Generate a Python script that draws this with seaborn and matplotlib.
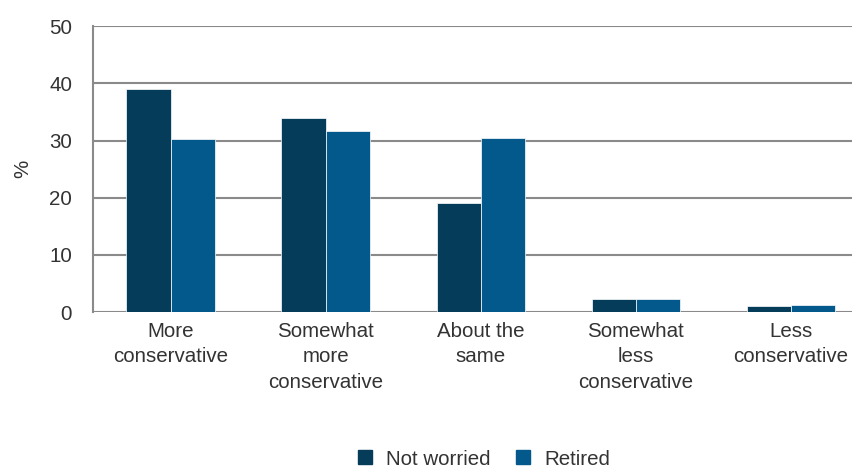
import matplotlib
matplotlib.use("Agg")
import matplotlib.pyplot as plt
from matplotlib.ticker import FixedLocator
import seaborn as sns
import pandas as pd

categories = ["More\nconservative", "Somewhat\nmore\nconservative", "About the\nsame",
              "Somewhat\nless\nconservative", "Less\nconservative"]
not_worried = [39.0, 34.0, 19.0, 2.3, 1.0]
retired = [30.2, 31.6, 30.5, 2.3, 1.3]
series = ["Not worried", "Retired"]
colors = ["#053c5a", "#04598c"]

rows = []
for c, a, b in zip(categories, not_worried, retired):
    rows.append({"cat": c, "series": series[0], "val": a})
    rows.append({"cat": c, "series": series[1], "val": b})
df = pd.DataFrame(rows)

sns.set_style("white")
plt.rcParams['font.family'] = ['Liberation Sans', 'DejaVu Sans']
textc = "#333333"
gridc = "#8a8a8a"
fs = 14.8

fig = plt.figure(figsize=(8.53, 4.68), dpi=100)
ax = fig.add_axes([0.109, 0.333, 0.891, 0.611])
sns.barplot(data=df, x="cat", y="val", hue="series", order=categories, hue_order=series,
            palette=colors, width=0.57, saturation=1, ax=ax, legend=True,
            edgecolor="white", linewidth=0.5)

ax.set_ylim(0, 50)
ax.set_xlim(-0.5, 4.4)
ax.set_yticks([0, 10, 20, 30, 40, 50])
ax.yaxis.grid(True, color=gridc, linewidth=1.5)
ax.set_axisbelow(True)
for s in ["top", "right", "bottom"]:
    ax.spines[s].set_visible(False)
ax.spines["left"].set_color(gridc)
ax.spines["left"].set_linewidth(1.5)
ax.tick_params(axis="y", length=7, width=1.5, color=gridc, labelsize=fs, labelcolor=textc, pad=8)
ax.tick_params(axis="x", which="major", length=0, labelsize=fs, labelcolor=textc, pad=7)
ax.xaxis.set_minor_locator(FixedLocator([-0.5, 0.5, 1.5, 2.5, 3.5, 4.5]))
ax.tick_params(axis="x", which="minor", length=7, width=1.5, color=gridc)
for lab in ax.get_xticklabels():
    lab.set_linespacing(1.43)
ax.set_xlabel("")
ax.set_ylabel("%", fontsize=fs, color=textc, labelpad=12)

ax.get_legend().remove()
handles = [plt.Line2D([], [], marker="s", linestyle="", markersize=10, color=c) for c in colors]
fig.legend(handles, series, loc="center", bbox_to_anchor=(0.564, 0.019), ncol=2, frameon=False,
           fontsize=fs, labelcolor=textc, handletextpad=0.45, columnspacing=0.95,
           handlelength=1.2)

fig.savefig("out.png", dpi=100)
